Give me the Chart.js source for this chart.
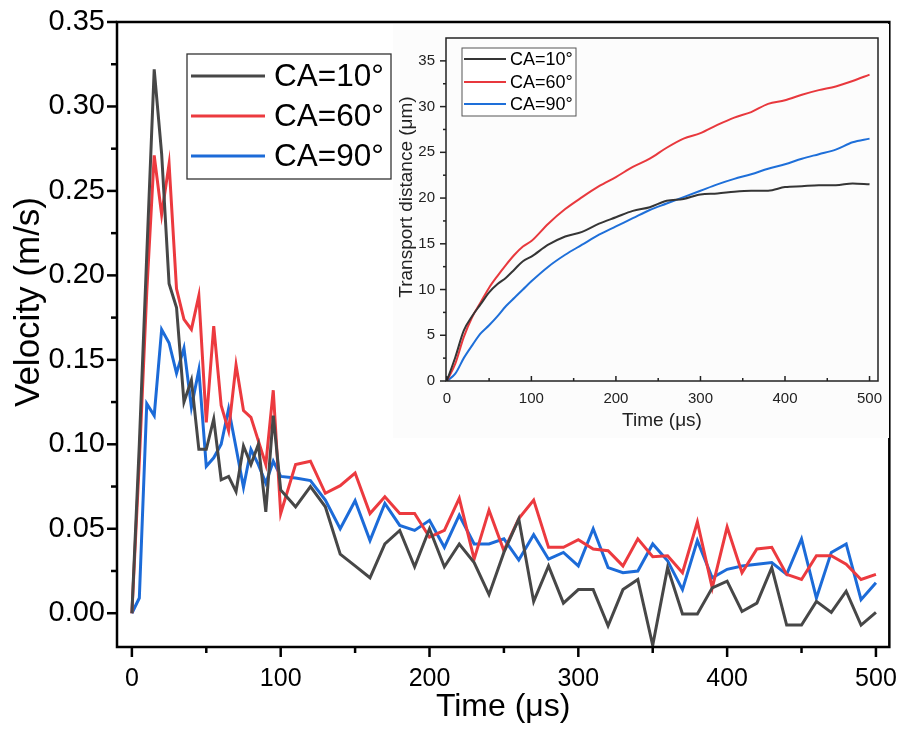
<!DOCTYPE html>
<html><head><meta charset="utf-8">
<script src="https://cdn.jsdelivr.net/npm/chart.js@4/dist/chart.umd.min.js"></script>
<style>
html,body{margin:0;padding:0;background:#fff;}
#wrap{position:relative;width:904px;height:729px;overflow:hidden;}
#main{position:absolute;left:0;top:0;}
#inset{position:absolute;left:393px;top:24px;}
</style></head><body>
<div id="wrap">
<canvas id="main" width="904" height="729"></canvas>
<canvas id="inset" width="496" height="414"></canvas>
</div>
<script>
// ---------- Main chart data (velocity) ----------
const timeUs = [0,5,10,15,20,25,30,35,40,45,50,55,60,65,70,75,80,85,90,95,100,
  110,120,130,140,150,160,170,180,190,200,210,220,230,240,250,260,270,280,290,300,
  310,320,330,340,350,360,370,380,390,400,410,420,430,440,450,460,470,480,490,500];
const velCA10 = [0,0.100,0.212,0.322,0.272,0.195,0.181,0.125,0.138,0.097,0.097,0.115,0.079,0.081,0.072,0.099,0.088,0.100,0.060,0.117,0.073,
  0.063,0.075,0.063,0.035,0.028,0.021,0.041,0.049,0.0275,0.050,0.0275,0.041,0.030,0.011,0.036,0.0558,0.007,0.028,0.006,0.014,
  0.014,-0.0074,0.014,0.020,-0.019,0.027,-0.0005,-0.0005,0.015,0.019,0.001,0.006,0.027,-0.007,-0.007,0.007,0.0005,0.013,-0.007,0.0005];
const velCA60 = [0,0.090,0.190,0.271,0.236,0.266,0.192,0.174,0.168,0.188,0.113,0.170,0.123,0.108,0.147,0.120,0.116,0.102,0.088,0.132,0.059,
  0.088,0.090,0.071,0.0755,0.083,0.059,0.069,0.059,0.059,0.045,0.049,0.068,0.032,0.061,0.037,0.056,0.067,0.039,0.039,0.0435,
  0.038,0.037,0.028,0.044,0.0335,0.034,0.024,0.054,0.015,0.051,0.024,0.038,0.039,0.023,0.020,0.034,0.034,0.029,0.020,0.023];
const velCA90 = [0,0.009,0.124,0.117,0.168,0.160,0.142,0.157,0.122,0.144,0.087,0.092,0.100,0.121,0.098,0.0745,0.097,0.088,0.077,0.090,0.081,
  0.080,0.0785,0.067,0.050,0.0666,0.043,0.065,0.052,0.049,0.055,0.039,0.058,0.041,0.041,0.044,0.0315,0.0465,0.032,0.036,0.028,
  0.050,0.027,0.024,0.025,0.041,0.031,0.014,0.043,0.021,0.026,0.028,0.029,0.030,0.023,0.044,0.009,0.036,0.041,0.008,0.018];
const seriesLabels = ['CA=10°','CA=60°','CA=90°'];
const xMajorTicks = [0,100,200,300,400,500];
const xMinorTicks = [50,150,250,350,450];
const yMajorTicks = [0,0.05,0.10,0.15,0.20,0.25,0.30,0.35];
const yMinorTicks = [0.025,0.075,0.125,0.175,0.225,0.275,0.325];

// ---------- Inset data (transport distance) ----------
const insetTime = [0,10,20,30,40,50,60,70,80,90,100,120,140,160,180,200,220,240,260,280,300,320,340,360,380,400,420,440,460,480,500];
const distCA10 = [0,2.6,5.5,7.1,8.4,9.7,10.6,11.3,12.2,13.1,13.6,14.9,15.8,16.3,17.2,17.9,18.6,19.0,19.7,19.9,20.4,20.5,20.7,20.8,20.8,21.2,21.3,21.4,21.4,21.6,21.5];
const distCA60 = [0,1.9,4.8,7.0,8.6,10.2,11.5,12.7,13.8,14.7,15.3,17.2,18.8,20.1,21.3,22.3,23.4,24.3,25.5,26.5,27.1,28.0,28.8,29.4,30.3,30.7,31.3,31.8,32.2,32.8,33.5];
const distCA90 = [0,0.8,2.5,3.9,5.2,6.1,7.1,8.2,9.1,10.0,10.9,12.5,13.8,14.9,16.0,16.9,17.8,18.7,19.4,20.1,20.8,21.5,22.1,22.6,23.2,23.7,24.3,24.8,25.3,26.1,26.5];
const insetXMajor = [0,100,200,300,400,500];
const insetXMinor = [50,150,250,350,450];
const insetYMajor = [0,5,10,15,20,25,30,35];
const insetYMinor = [2.5,7.5,12.5,17.5,22.5,27.5,32.5];

const FONT = "'Liberation Sans', Arial, Helvetica, sans-serif";
const COLORS = ['#474747', '#ec3a3f', '#1c6bd8'];
const INSET_COLORS = ['#353535', '#e8383d', '#1e6fd9'];

function pts(xs, ys){ return xs.map((x,i)=>({x:x, y:ys[i]})); }

// plugin: frame, ticks, legend, rotated y title
function makeDecor(cfg){
  return {
    id: 'decor',
    beforeDraw(chart){
      if (cfg.bg){
        const c = chart.ctx; c.save(); c.fillStyle = cfg.bg;
        c.fillRect(0,0,chart.width,chart.height); c.restore();
      }
    },
    afterDraw(chart){
      const ctx = chart.ctx, a = chart.chartArea;
      const xs = chart.scales.x, ys = chart.scales.y;
      ctx.save();
      ctx.strokeStyle = cfg.frameColor; ctx.lineWidth = cfg.frameWidth;
      ctx.lineCap = 'butt';
      const xt = (vals, len, inward) => vals.forEach(v => {
        const p = xs.getPixelForValue(v);
        ctx.beginPath(); ctx.moveTo(p, a.bottom);
        ctx.lineTo(p, inward ? a.bottom - len : a.bottom + len); ctx.stroke();
      });
      const yt = (vals, len) => vals.forEach(v => {
        const p = ys.getPixelForValue(v);
        ctx.beginPath(); ctx.moveTo(a.left, p); ctx.lineTo(a.left - len, p); ctx.stroke();
      });
      xt(cfg.xMajor, cfg.xMajorLen, cfg.xInward);
      xt(cfg.xMinor, cfg.xMinorLen, cfg.xInward);
      yt(cfg.yMajor, cfg.yMajorLen);
      yt(cfg.yMinor, cfg.yMinorLen);
      ctx.strokeRect(a.left, a.top, a.right - a.left, a.bottom - a.top);
      // y title
      ctx.fillStyle = cfg.titleColor;
      ctx.font = cfg.yTitleSize + 'px ' + FONT;
      ctx.textAlign = 'center'; ctx.textBaseline = 'middle';
      ctx.translate(cfg.yTitleX, cfg.yTitleY); ctx.rotate(-Math.PI/2);
      ctx.fillText(cfg.yTitle, 0, 0);
      ctx.setTransform(1,0,0,1,0,0);
      // legend
      const L = cfg.legend;
      ctx.fillStyle = '#fff';
      ctx.fillRect(L.x, L.y, L.w, L.h);
      ctx.strokeStyle = L.border; ctx.lineWidth = L.borderWidth;
      ctx.strokeRect(L.x, L.y, L.w, L.h);
      chart.data.datasets.forEach((ds, i) => {
        const yy = L.rowY[i];
        ctx.strokeStyle = ds.borderColor; ctx.lineWidth = ds.borderWidth;
        ctx.beginPath(); ctx.moveTo(L.lx0, yy); ctx.lineTo(L.lx1, yy); ctx.stroke();
        ctx.fillStyle = '#000'; ctx.font = L.font + 'px ' + FONT;
        ctx.textAlign = 'left'; ctx.textBaseline = 'middle';
        ctx.fillText(ds.label, L.tx, yy + 1);
      });
      ctx.restore();
    }
  };
}

// ---------- Main chart ----------
new Chart(document.getElementById('main').getContext('2d'), {
  type: 'line',
  data: {
    datasets: [velCA10, velCA60, velCA90].map((v, i) => ({
      label: seriesLabels[i], data: pts(timeUs, v), borderColor: COLORS[i],
      borderWidth: 3, pointRadius: 0, tension: 0, fill: false, borderJoinStyle: 'miter'
    }))
  },
  options: {
    responsive: false, animation: false, devicePixelRatio: 1,
    layout: { padding: { left: 0, top: 22, right: 12, bottom: 0 } },
    plugins: { legend: { display: false }, tooltip: { enabled: false } },
    scales: {
      x: {
        type: 'linear', min: -10, max: 509,
        afterBuildTicks: s => { s.ticks = xMajorTicks.map(v => ({ value: v })); },
        afterFit: s => { s.height = 82; },
        grid: { display: true, drawOnChartArea: false, drawTicks: true, tickLength: 10, color: 'rgba(0,0,0,0)' },
        border: { display: false },
        ticks: { font: { family: FONT, size: 25 }, color: '#000', padding: 7, maxRotation: 0, autoSkip: false },
        title: { display: true, text: 'Time (μs)', font: { family: FONT, size: 32 }, color: '#000', padding: { top: 0, bottom: 3 } }
      },
      y: {
        type: 'linear', min: -0.02, max: 0.35,
        afterBuildTicks: s => { s.ticks = yMajorTicks.map(v => ({ value: v })); },
        afterFit: s => { s.width = 117; },
        grid: { display: true, drawOnChartArea: false, drawTicks: true, tickLength: 10, color: 'rgba(0,0,0,0)' },
        border: { display: false },
        ticks: { font: { family: FONT, size: 29 }, color: '#000', padding: 2, autoSkip: false,
                 callback: v => Number(v).toFixed(2) }
      }
    }
  },
  plugins: [makeDecor({
    frameColor: '#000', frameWidth: 2.5,
    xMajor: xMajorTicks, xMinor: xMinorTicks, xMajorLen: 10, xMinorLen: 6, xInward: false,
    yMajor: yMajorTicks, yMinor: yMinorTicks, yMajorLen: 10, yMinorLen: 6,
    titleColor: '#000', yTitle: 'Velocity (m/s)', yTitleSize: 35, yTitleX: 29, yTitleY: 302,
    legend: { x: 187, y: 54, w: 204, h: 125, border: '#333', borderWidth: 1.3,
              rowY: [76, 116, 156], lx0: 191, lx1: 265, tx: 274, font: 31.5 }
  })]
});

// ---------- Inset chart ----------
new Chart(document.getElementById('inset').getContext('2d'), {
  type: 'line',
  data: {
    datasets: [distCA10, distCA60, distCA90].map((v, i) => ({
      label: seriesLabels[i], data: pts(insetTime, v), borderColor: INSET_COLORS[i],
      borderWidth: 2, pointRadius: 0, cubicInterpolationMode: 'monotone', fill: false
    }))
  },
  options: {
    responsive: false, animation: false, devicePixelRatio: 1,
    layout: { padding: { left: 0, top: 10, right: 11, bottom: 0 } },
    plugins: { legend: { display: false }, tooltip: { enabled: false } },
    scales: {
      x: {
        type: 'linear', min: -1, max: 510,
        afterBuildTicks: s => { s.ticks = insetXMajor.map(v => ({ value: v })); },
        afterFit: s => { s.height = 57; },
        grid: { display: true, drawOnChartArea: false, drawTicks: true, tickLength: 4, color: 'rgba(0,0,0,0)' },
        border: { display: false },
        ticks: { font: { family: FONT, size: 15 }, color: '#222', padding: 5, maxRotation: 0, autoSkip: false },
        title: { display: true, text: 'Time (μs)', font: { family: FONT, size: 19 }, color: '#222', padding: { top: 0, bottom: 6 } }
      },
      y: {
        type: 'linear', min: 0, max: 37.5,
        afterBuildTicks: s => { s.ticks = insetYMajor.map(v => ({ value: v })); },
        afterFit: s => { s.width = 53; },
        grid: { display: true, drawOnChartArea: false, drawTicks: true, tickLength: 6, color: 'rgba(0,0,0,0)' },
        border: { display: false },
        ticks: { font: { family: FONT, size: 15 }, color: '#222', padding: 5, autoSkip: false }
      }
    }
  },
  plugins: [makeDecor({
    bg: '#fcfcfc',
    frameColor: '#222', frameWidth: 1.5,
    xMajor: insetXMajor, xMinor: insetXMinor, xMajorLen: 5, xMinorLen: 3, xInward: true,
    yMajor: insetYMajor, yMinor: insetYMinor, yMajorLen: 6, yMinorLen: 3,
    titleColor: '#222', yTitle: 'Transport distance (μm)', yTitleSize: 19, yTitleX: 14, yTitleY: 173,
    legend: { x: 69, y: 24, w: 114, h: 68, border: '#555', borderWidth: 1,
              rowY: [35, 58, 80], lx0: 71, lx1: 113, tx: 117, font: 18 }
  })]
});
</script>
</body></html>
